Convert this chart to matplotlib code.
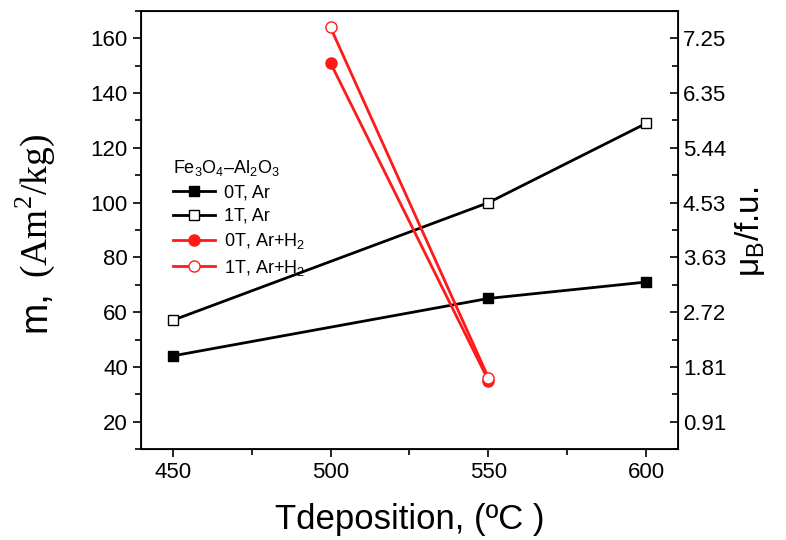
import matplotlib
matplotlib.use('Agg')
import matplotlib.pyplot as plt
from matplotlib.ticker import MultipleLocator

plt.rcParams['font.family'] = ['Liberation Sans', 'DejaVu Sans']
plt.rcParams['mathtext.fontset'] = 'custom'
plt.rcParams['mathtext.rm'] = 'Liberation Sans'
plt.rcParams['mathtext.it'] = 'Liberation Sans:italic'

# --- data ---
t_ar = [450, 550, 600]
m_0T_ar = [44, 65, 71]
m_1T_ar = [57, 100, 129]

t_h2 = [500, 550]
m_0T_h2 = [151, 35]
m_1T_h2 = [164, 36]

x_ticks = [450, 500, 550, 600]
y_ticks = [20, 40, 60, 80, 100, 120, 140, 160]
mu_labels = ['0.91', '1.81', '2.72', '3.63', '4.53', '5.44', '6.35', '7.25']

red = '#ff1a1a'

fig = plt.figure(figsize=(7.86, 5.4), dpi=100)
ax = fig.add_axes([141/786, 1 - 449/540, (678-141)/786, (449-11)/540])

ax.plot(t_ar, m_0T_ar, color='black', lw=2, marker='s', ms=7,
        mfc='black', mec='black', label='0T, Ar')
ax.plot(t_ar, m_1T_ar, color='black', lw=2, marker='s', ms=7,
        mfc='white', mec='black', mew=1, label='1T, Ar')
ax.plot(t_h2, m_0T_h2, color=red, lw=2, marker='o', ms=8,
        mfc=red, mec=red, label=r'0T, Ar+H$_{\mathregular{2}}$')
ax.plot(t_h2, m_1T_h2, color=red, lw=2, marker='o', ms=8,
        mfc='white', mec=red, mew=1, label=r'1T, Ar+H$_{\mathregular{2}}$')

ax.set_xlim(440, 610)
ax.set_ylim(10, 170)
ax.set_xticks(x_ticks)
ax.set_yticks(y_ticks)
ax.xaxis.set_minor_locator(MultipleLocator(25))
ax.yaxis.set_minor_locator(MultipleLocator(10))
ax.tick_params(which='both', direction='out', width=1.2, labelsize=16)
ax.tick_params(which='major', length=6)
ax.tick_params(which='minor', length=4)
for s in ax.spines.values():
    s.set_linewidth(1.3)

# right axis in mu_B per formula unit
ax2 = ax.twinx()
ax2.set_ylim(ax.get_ylim())
ax2.set_yticks(y_ticks)
ax2.set_yticklabels(mu_labels)
ax2.yaxis.set_minor_locator(MultipleLocator(10))
ax2.tick_params(which='both', direction='in', width=1.2, labelsize=16)
ax2.tick_params(which='major', length=6)
ax2.tick_params(which='minor', length=4)

ax.set_xlabel('Tdeposition, (ºC )', fontsize=25, labelpad=14)
fig.text(35/786, 1 - 311/540, 'm,', rotation=90, fontsize=27,
         ha='center', va='center')
fig.text(35/786, 1 - 206/540, r'(Am$^{\mathregular{2}}$/kg)', rotation=90,
         fontsize=27, family='Liberation Serif', ha='center', va='center')
fig.text(750/786, 1 - 232/540, r'$\mathregular{\mu_B}$/f.u.', rotation=90,
         fontsize=24, ha='center', va='center')

leg = ax.legend(loc='upper left', bbox_to_anchor=(157/786, 1 - 142/540),
                bbox_transform=fig.transFigure, frameon=False, fontsize=13,
                title=r'Fe$_{\mathregular{3}}$O$_{\mathregular{4}}$–Al$_{\mathregular{2}}$O$_{\mathregular{3}}$',
                title_fontsize=13, handlelength=2.3, handletextpad=0.5,
                labelspacing=0.35, alignment='left')

fig.savefig('out.png', dpi=100)
